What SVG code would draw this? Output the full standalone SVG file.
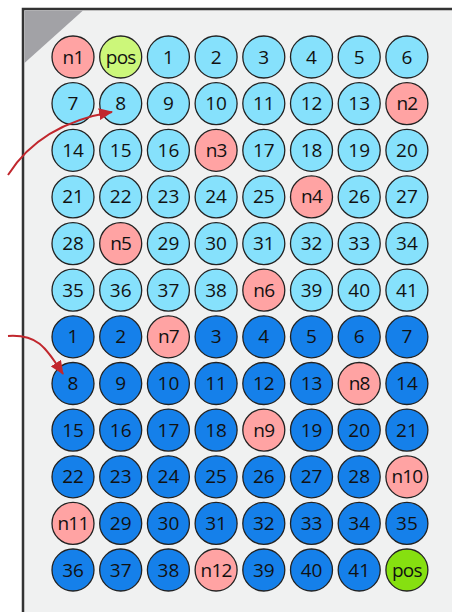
<svg xmlns="http://www.w3.org/2000/svg" width="452" height="612" viewBox="0 0 452 612">
<defs>
<style>
.w circle{stroke:#222;stroke-width:1.3}
.c circle{fill:#86E1FC}
.b circle{fill:#1580EA}
.n circle{fill:#FFA3A3}
.p circle{fill:#CCF77A}
.g circle{fill:#86E010}
.w text{font-family:"Open Sans","Noto Sans",sans-serif;font-size:19px;fill:#111;text-anchor:middle}
.n text,.p text,.g text{letter-spacing:-0.8px}
.conn path{fill:none;stroke:#C1272D;stroke-width:2}
</style>
<marker id="ah" viewBox="0 0 14 12" refX="13" refY="6" markerWidth="14" markerHeight="12" markerUnits="userSpaceOnUse" orient="auto">
<path d="M0,0 L14,6 L0,12 z" fill="#C1272D"/>
</marker>
</defs>
<rect x="0" y="0" width="452" height="612" fill="#fff"/>
<rect x="23" y="9" width="440" height="620" fill="#F0F1F1" stroke="#333" stroke-width="2.5"/>
<polygon points="24.5,10.5 83,10.5 24.5,63" fill="#A2A2A6"/>
<g id="r0">
<g id="n1" class="w n"><circle cx="73" cy="57" r="21"/><text x="73" y="63.5">n1</text></g>
<g id="pos1" class="w p"><circle cx="120.7" cy="57" r="21"/><text x="120.7" y="63.5">pos</text></g>
<g id="a1" class="w c"><circle cx="168.4" cy="57" r="21"/><text x="168.4" y="63.5">1</text></g>
<g id="a2" class="w c"><circle cx="216.1" cy="57" r="21"/><text x="216.1" y="63.5">2</text></g>
<g id="a3" class="w c"><circle cx="263.8" cy="57" r="21"/><text x="263.8" y="63.5">3</text></g>
<g id="a4" class="w c"><circle cx="311.5" cy="57" r="21"/><text x="311.5" y="63.5">4</text></g>
<g id="a5" class="w c"><circle cx="359.2" cy="57" r="21"/><text x="359.2" y="63.5">5</text></g>
<g id="a6" class="w c"><circle cx="406.9" cy="57" r="21"/><text x="406.9" y="63.5">6</text></g>
</g>
<g id="r1">
<g id="a7" class="w c"><circle cx="73" cy="103.6" r="21"/><text x="73" y="110.1">7</text></g>
<g id="a8" class="w c"><circle cx="120.7" cy="103.6" r="21"/><text x="120.7" y="110.1">8</text></g>
<g id="a9" class="w c"><circle cx="168.4" cy="103.6" r="21"/><text x="168.4" y="110.1">9</text></g>
<g id="a10" class="w c"><circle cx="216.1" cy="103.6" r="21"/><text x="216.1" y="110.1">10</text></g>
<g id="a11" class="w c"><circle cx="263.8" cy="103.6" r="21"/><text x="263.8" y="110.1">11</text></g>
<g id="a12" class="w c"><circle cx="311.5" cy="103.6" r="21"/><text x="311.5" y="110.1">12</text></g>
<g id="a13" class="w c"><circle cx="359.2" cy="103.6" r="21"/><text x="359.2" y="110.1">13</text></g>
<g id="n2" class="w n"><circle cx="406.9" cy="103.6" r="21"/><text x="406.9" y="110.1">n2</text></g>
</g>
<g id="r2">
<g id="a14" class="w c"><circle cx="73" cy="150.3" r="21"/><text x="73" y="156.8">14</text></g>
<g id="a15" class="w c"><circle cx="120.7" cy="150.3" r="21"/><text x="120.7" y="156.8">15</text></g>
<g id="a16" class="w c"><circle cx="168.4" cy="150.3" r="21"/><text x="168.4" y="156.8">16</text></g>
<g id="n3" class="w n"><circle cx="216.1" cy="150.3" r="21"/><text x="216.1" y="156.8">n3</text></g>
<g id="a17" class="w c"><circle cx="263.8" cy="150.3" r="21"/><text x="263.8" y="156.8">17</text></g>
<g id="a18" class="w c"><circle cx="311.5" cy="150.3" r="21"/><text x="311.5" y="156.8">18</text></g>
<g id="a19" class="w c"><circle cx="359.2" cy="150.3" r="21"/><text x="359.2" y="156.8">19</text></g>
<g id="a20" class="w c"><circle cx="406.9" cy="150.3" r="21"/><text x="406.9" y="156.8">20</text></g>
</g>
<g id="r3">
<g id="a21" class="w c"><circle cx="73" cy="196.9" r="21"/><text x="73" y="203.4">21</text></g>
<g id="a22" class="w c"><circle cx="120.7" cy="196.9" r="21"/><text x="120.7" y="203.4">22</text></g>
<g id="a23" class="w c"><circle cx="168.4" cy="196.9" r="21"/><text x="168.4" y="203.4">23</text></g>
<g id="a24" class="w c"><circle cx="216.1" cy="196.9" r="21"/><text x="216.1" y="203.4">24</text></g>
<g id="a25" class="w c"><circle cx="263.8" cy="196.9" r="21"/><text x="263.8" y="203.4">25</text></g>
<g id="n4" class="w n"><circle cx="311.5" cy="196.9" r="21"/><text x="311.5" y="203.4">n4</text></g>
<g id="a26" class="w c"><circle cx="359.2" cy="196.9" r="21"/><text x="359.2" y="203.4">26</text></g>
<g id="a27" class="w c"><circle cx="406.9" cy="196.9" r="21"/><text x="406.9" y="203.4">27</text></g>
</g>
<g id="r4">
<g id="a28" class="w c"><circle cx="73" cy="243.6" r="21"/><text x="73" y="250.1">28</text></g>
<g id="n5" class="w n"><circle cx="120.7" cy="243.6" r="21"/><text x="120.7" y="250.1">n5</text></g>
<g id="a29" class="w c"><circle cx="168.4" cy="243.6" r="21"/><text x="168.4" y="250.1">29</text></g>
<g id="a30" class="w c"><circle cx="216.1" cy="243.6" r="21"/><text x="216.1" y="250.1">30</text></g>
<g id="a31" class="w c"><circle cx="263.8" cy="243.6" r="21"/><text x="263.8" y="250.1">31</text></g>
<g id="a32" class="w c"><circle cx="311.5" cy="243.6" r="21"/><text x="311.5" y="250.1">32</text></g>
<g id="a33" class="w c"><circle cx="359.2" cy="243.6" r="21"/><text x="359.2" y="250.1">33</text></g>
<g id="a34" class="w c"><circle cx="406.9" cy="243.6" r="21"/><text x="406.9" y="250.1">34</text></g>
</g>
<g id="r5">
<g id="a35" class="w c"><circle cx="73" cy="290.2" r="21"/><text x="73" y="296.7">35</text></g>
<g id="a36" class="w c"><circle cx="120.7" cy="290.2" r="21"/><text x="120.7" y="296.7">36</text></g>
<g id="a37" class="w c"><circle cx="168.4" cy="290.2" r="21"/><text x="168.4" y="296.7">37</text></g>
<g id="a38" class="w c"><circle cx="216.1" cy="290.2" r="21"/><text x="216.1" y="296.7">38</text></g>
<g id="n6" class="w n"><circle cx="263.8" cy="290.2" r="21"/><text x="263.8" y="296.7">n6</text></g>
<g id="a39" class="w c"><circle cx="311.5" cy="290.2" r="21"/><text x="311.5" y="296.7">39</text></g>
<g id="a40" class="w c"><circle cx="359.2" cy="290.2" r="21"/><text x="359.2" y="296.7">40</text></g>
<g id="a41" class="w c"><circle cx="406.9" cy="290.2" r="21"/><text x="406.9" y="296.7">41</text></g>
</g>
<g id="r6">
<g id="b1" class="w b"><circle cx="73" cy="336.8" r="21"/><text x="73" y="343.3">1</text></g>
<g id="b2" class="w b"><circle cx="120.7" cy="336.8" r="21"/><text x="120.7" y="343.3">2</text></g>
<g id="n7" class="w n"><circle cx="168.4" cy="336.8" r="21"/><text x="168.4" y="343.3">n7</text></g>
<g id="b3" class="w b"><circle cx="216.1" cy="336.8" r="21"/><text x="216.1" y="343.3">3</text></g>
<g id="b4" class="w b"><circle cx="263.8" cy="336.8" r="21"/><text x="263.8" y="343.3">4</text></g>
<g id="b5" class="w b"><circle cx="311.5" cy="336.8" r="21"/><text x="311.5" y="343.3">5</text></g>
<g id="b6" class="w b"><circle cx="359.2" cy="336.8" r="21"/><text x="359.2" y="343.3">6</text></g>
<g id="b7" class="w b"><circle cx="406.9" cy="336.8" r="21"/><text x="406.9" y="343.3">7</text></g>
</g>
<g id="r7">
<g id="b8" class="w b"><circle cx="73" cy="383.5" r="21"/><text x="73" y="390">8</text></g>
<g id="b9" class="w b"><circle cx="120.7" cy="383.5" r="21"/><text x="120.7" y="390">9</text></g>
<g id="b10" class="w b"><circle cx="168.4" cy="383.5" r="21"/><text x="168.4" y="390">10</text></g>
<g id="b11" class="w b"><circle cx="216.1" cy="383.5" r="21"/><text x="216.1" y="390">11</text></g>
<g id="b12" class="w b"><circle cx="263.8" cy="383.5" r="21"/><text x="263.8" y="390">12</text></g>
<g id="b13" class="w b"><circle cx="311.5" cy="383.5" r="21"/><text x="311.5" y="390">13</text></g>
<g id="n8" class="w n"><circle cx="359.2" cy="383.5" r="21"/><text x="359.2" y="390">n8</text></g>
<g id="b14" class="w b"><circle cx="406.9" cy="383.5" r="21"/><text x="406.9" y="390">14</text></g>
</g>
<g id="r8">
<g id="b15" class="w b"><circle cx="73" cy="430.1" r="21"/><text x="73" y="436.6">15</text></g>
<g id="b16" class="w b"><circle cx="120.7" cy="430.1" r="21"/><text x="120.7" y="436.6">16</text></g>
<g id="b17" class="w b"><circle cx="168.4" cy="430.1" r="21"/><text x="168.4" y="436.6">17</text></g>
<g id="b18" class="w b"><circle cx="216.1" cy="430.1" r="21"/><text x="216.1" y="436.6">18</text></g>
<g id="n9" class="w n"><circle cx="263.8" cy="430.1" r="21"/><text x="263.8" y="436.6">n9</text></g>
<g id="b19" class="w b"><circle cx="311.5" cy="430.1" r="21"/><text x="311.5" y="436.6">19</text></g>
<g id="b20" class="w b"><circle cx="359.2" cy="430.1" r="21"/><text x="359.2" y="436.6">20</text></g>
<g id="b21" class="w b"><circle cx="406.9" cy="430.1" r="21"/><text x="406.9" y="436.6">21</text></g>
</g>
<g id="r9">
<g id="b22" class="w b"><circle cx="73" cy="476.8" r="21"/><text x="73" y="483.3">22</text></g>
<g id="b23" class="w b"><circle cx="120.7" cy="476.8" r="21"/><text x="120.7" y="483.3">23</text></g>
<g id="b24" class="w b"><circle cx="168.4" cy="476.8" r="21"/><text x="168.4" y="483.3">24</text></g>
<g id="b25" class="w b"><circle cx="216.1" cy="476.8" r="21"/><text x="216.1" y="483.3">25</text></g>
<g id="b26" class="w b"><circle cx="263.8" cy="476.8" r="21"/><text x="263.8" y="483.3">26</text></g>
<g id="b27" class="w b"><circle cx="311.5" cy="476.8" r="21"/><text x="311.5" y="483.3">27</text></g>
<g id="b28" class="w b"><circle cx="359.2" cy="476.8" r="21"/><text x="359.2" y="483.3">28</text></g>
<g id="n10" class="w n"><circle cx="406.9" cy="476.8" r="21"/><text x="406.9" y="483.3">n10</text></g>
</g>
<g id="r10">
<g id="n11" class="w n"><circle cx="73" cy="523.4" r="21"/><text x="73" y="529.9">n11</text></g>
<g id="b29" class="w b"><circle cx="120.7" cy="523.4" r="21"/><text x="120.7" y="529.9">29</text></g>
<g id="b30" class="w b"><circle cx="168.4" cy="523.4" r="21"/><text x="168.4" y="529.9">30</text></g>
<g id="b31" class="w b"><circle cx="216.1" cy="523.4" r="21"/><text x="216.1" y="529.9">31</text></g>
<g id="b32" class="w b"><circle cx="263.8" cy="523.4" r="21"/><text x="263.8" y="529.9">32</text></g>
<g id="b33" class="w b"><circle cx="311.5" cy="523.4" r="21"/><text x="311.5" y="529.9">33</text></g>
<g id="b34" class="w b"><circle cx="359.2" cy="523.4" r="21"/><text x="359.2" y="529.9">34</text></g>
<g id="b35" class="w b"><circle cx="406.9" cy="523.4" r="21"/><text x="406.9" y="529.9">35</text></g>
</g>
<g id="r11">
<g id="b36" class="w b"><circle cx="73" cy="570" r="21"/><text x="73" y="576.5">36</text></g>
<g id="b37" class="w b"><circle cx="120.7" cy="570" r="21"/><text x="120.7" y="576.5">37</text></g>
<g id="b38" class="w b"><circle cx="168.4" cy="570" r="21"/><text x="168.4" y="576.5">38</text></g>
<g id="n12" class="w n"><circle cx="216.1" cy="570" r="21"/><text x="216.1" y="576.5">n12</text></g>
<g id="b39" class="w b"><circle cx="263.8" cy="570" r="21"/><text x="263.8" y="576.5">39</text></g>
<g id="b40" class="w b"><circle cx="311.5" cy="570" r="21"/><text x="311.5" y="576.5">40</text></g>
<g id="b41" class="w b"><circle cx="359.2" cy="570" r="21"/><text x="359.2" y="576.5">41</text></g>
<g id="pos2" class="w g"><circle cx="406.9" cy="570" r="21"/><text x="406.9" y="576.5">pos</text></g>
</g>
<g id="connectors" class="conn">
<path d="M8,175 Q40,124 112,112" marker-end="url(#ah)"/>
<path d="M8,336 C38,334 46,348 63,374" marker-end="url(#ah)"/>
</g>
</svg>
